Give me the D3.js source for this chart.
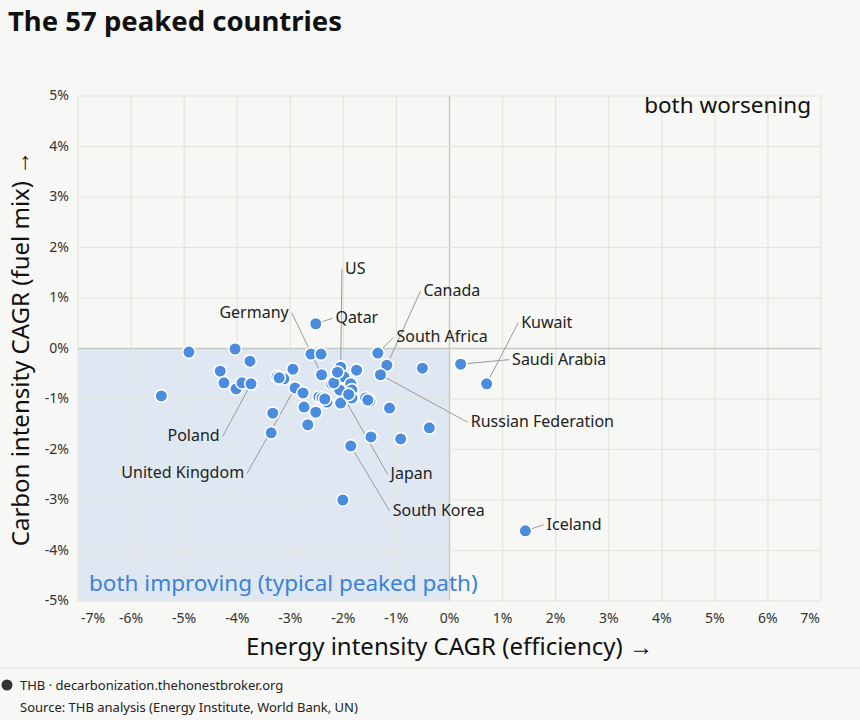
<!DOCTYPE html>
<html>
<head>
<meta charset="utf-8">
<script src="https://cdn.jsdelivr.net/npm/d3@7"></script>
<style>
  body { margin: 0; background: #f7f7f5; font-family: "Noto Sans", sans-serif; }
</style>
</head>
<body>
<svg id="chart" width="860" height="720"></svg>
<script>
// energy intensity CAGR (%) and carbon intensity CAGR (%) per country
var energyCagr = [
  -5.43, -4.91, -4.04, -3.76, -4.32, -4.25, -4.02, -3.91, -3.74, -3.33,
  -3.36, -3.25, -3.12, -2.95, -2.91, -2.76, -2.74, -2.67, -2.52, -2.61,
  -2.42, -2.52, -2.41, -2.46, -2.31, -2.22, -2.12, -2.05, -1.99, -2.07,
  -2.05, -1.86, -1.84, -1.84, -1.75, -1.58, -1.50, -1.35, -1.18, -1.30,
  -1.13, -0.51, 0.21, 0.70, 1.43, -1.86, -2.01, -1.48, -0.92, -0.38,
  -2.18, -1.90, -3.21, -2.40, -2.11, -1.54, -2.35
];
var carbonCagr = [
  -0.94, -0.07, -0.01, -0.25, -0.45, -0.68, -0.80, -0.68, -0.70, -1.28,
  -1.67, -0.56, -0.60, -0.41, -0.78, -0.88, -1.16, -1.51, -1.26, -0.11,
  -0.11, 0.49, -0.52, -0.96, -1.06, -0.70, -0.52, -0.37, -0.56, -0.82,
  -1.08, -0.70, -0.82, -0.98, -0.43, -0.98, -1.04, -0.09, -0.33, -0.52,
  -1.18, -0.39, -0.31, -0.70, -3.61, -1.93, -3.00, -1.75, -1.79, -1.57,
  -0.68, -0.91, -0.58, -0.98, -0.47, -1.02, -1.00
];
var countryNames = [
  "", "", "", "", "", "", "", "", "Poland", "",
  "", "", "", "", "United Kingdom", "", "", "", "", "",
  "", "Qatar", "Germany", "", "", "", "", "US", "", "Japan",
  "", "", "", "", "", "", "", "South Africa", "Canada", "Russian Federation",
  "", "", "Saudi Arabia", "Kuwait", "Iceland", "South Korea", "", "", "", "",
  "", "", "", "", "", "", ""
];
// label anchor positions in data units [x, y] and text alignment
var labelNames = ["US", "Canada", "Germany", "Qatar", "South Africa", "Kuwait", "Saudi Arabia",
  "Russian Federation", "Poland", "United Kingdom", "Japan", "South Korea", "Iceland"];
var labelX = [-1.97, -0.49, -3.03, -2.15, -1.00, 1.35, 1.18, 0.40, -4.33, -3.87, -1.11, -1.07, 1.83];
var labelY = [1.48, 1.04, 0.61, 0.50, 0.12, 0.41, -0.32, -1.56, -1.84, -2.57, -2.59, -3.32, -3.59];
var labelAnchor = ["start", "start", "end", "start", "start", "start", "start",
  "start", "end", "end", "start", "start", "start"];
var xTicks = [-7, -6, -5, -4, -3, -2, -1, 0, 1, 2, 3, 4, 5, 6, 7];
var yTicks = [5, 4, 3, 2, 1, 0, -1, -2, -3, -4, -5];

var svg = d3.select("#chart"),
    margin = {top: 96, right: 39, bottom: 119, left: 78},
    width = 860 - margin.left - margin.right,
    height = 720 - margin.top - margin.bottom,
    g = svg.append("g").attr("transform", "translate(" + margin.left + "," + margin.top + ")");

var x = d3.scaleLinear().domain([-7, 7]).range([0, width]);
var y = d3.scaleLinear().domain([-5, 5]).range([height, 0]);

// shaded "both improving" quadrant
g.append("rect")
    .attr("x", x(-7)).attr("y", y(0))
    .attr("width", x(0) - x(-7)).attr("height", y(-5) - y(0))
    .attr("fill", "#dfe8f2");

// grid
g.selectAll(".gx").data(xTicks).enter().append("line")
    .attr("x1", function (d) { return x(d); }).attr("x2", function (d) { return x(d); })
    .attr("y1", 0).attr("y2", height)
    .attr("stroke", function (d) { return d === 0 ? "#c9c9c4" : "#e4e4dc"; })
    .attr("stroke-width", function (d) { return d === 0 ? 1.5 : 1.2; });
g.selectAll(".gy").data(yTicks).enter().append("line")
    .attr("y1", function (d) { return y(d); }).attr("y2", function (d) { return y(d); })
    .attr("x1", 0).attr("x2", width)
    .attr("stroke", function (d) { return d === 0 ? "#c9c9c4" : "#e4e4dc"; })
    .attr("stroke-width", function (d) { return d === 0 ? 1.5 : 1.2; });

// tick labels
g.selectAll(".tx").data(xTicks).enter().append("text")
    .attr("x", function (d) { return d === -7 ? x(d) + 3 : (d === 7 ? x(d) - 1 : x(d)); })
    .attr("y", height + 22)
    .attr("text-anchor", function (d) { return d === -7 ? "start" : (d === 7 ? "end" : "middle"); })
    .attr("font-size", 14).attr("fill", "#333")
    .text(function (d) { return d + "%"; });
g.selectAll(".ty").data(yTicks).enter().append("text")
    .attr("x", -9).attr("y", function (d) { return y(d) + 4; })
    .attr("text-anchor", "end")
    .attr("font-size", 14).attr("fill", "#333")
    .text(function (d) { return d + "%"; });

// quadrant notes
g.append("text").attr("x", width - 10).attr("y", 17)
    .attr("text-anchor", "end").attr("font-size", 22.5).attr("fill", "#111")
    .text("both worsening");
g.append("text").attr("x", 11).attr("y", height - 10)
    .attr("font-size", 22.5).attr("fill", "#3b82d6")
    .text("both improving (typical peaked path)");

// leader lines and labels
labelNames.forEach(function (name, i) {
    var k = countryNames.indexOf(name);
    var lx = x(labelX[i]), ly = y(labelY[i]);
    var ex = labelAnchor[i] === "start" ? lx - 3 : lx + 3;
    g.append("line")
        .attr("x1", ex).attr("y1", ly - 5)
        .attr("x2", x(energyCagr[k])).attr("y2", y(carbonCagr[k]))
        .attr("stroke", "#9a9a9a").attr("stroke-width", 1);
    g.append("text")
        .attr("x", lx).attr("y", ly)
        .attr("text-anchor", labelAnchor[i])
        .attr("font-size", 16).attr("fill", "#222")
        .text(name);
});

// points
g.selectAll(".dot").data(energyCagr).enter().append("circle")
    .attr("cx", function (d) { return x(d); })
    .attr("cy", function (d, i) { return y(carbonCagr[i]); })
    .attr("r", 6.3)
    .attr("fill", "#4a8ddf")
    .attr("stroke", "#fff").attr("stroke-width", 1.6);

// axis titles
svg.append("text").attr("x", margin.left + x(0)).attr("y", 655)
    .attr("text-anchor", "middle").attr("font-size", 24).attr("fill", "#111")
    .text("Energy intensity CAGR (efficiency) \u2192");
svg.append("text")
    .attr("transform", "translate(29," + (margin.top + y(0)) + ") rotate(-90)")
    .attr("text-anchor", "middle").attr("font-size", 24).attr("fill", "#111")
    .text("Carbon intensity CAGR (fuel mix) \u2192");

// title
svg.append("text").attr("x", 8).attr("y", 31)
    .attr("font-size", 27.5).attr("font-weight", "bold").attr("fill", "#111")
    .text("The 57 peaked countries");

// footer
svg.append("line").attr("x1", 0).attr("x2", 860).attr("y1", 668).attr("y2", 668)
    .attr("stroke", "#e2e2de");
svg.append("circle").attr("cx", 7).attr("cy", 685).attr("r", 5.5).attr("fill", "#333");
svg.append("text").attr("x", 20).attr("y", 690)
    .attr("font-size", 13).attr("fill", "#222")
    .text("THB \u00b7 decarbonization.thehonestbroker.org");
svg.append("text").attr("x", 20).attr("y", 712)
    .attr("font-size", 13).attr("fill", "#222")
    .text("Source: THB analysis (Energy Institute, World Bank, UN)");
</script>
</body>
</html>
